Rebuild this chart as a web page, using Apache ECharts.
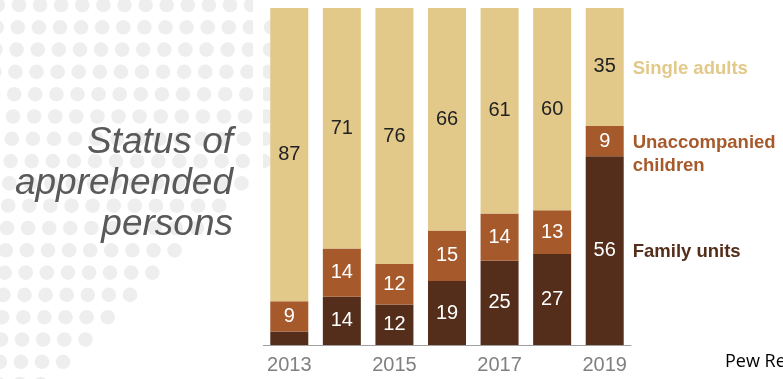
<!DOCTYPE html>
<html>
<head>
<meta charset="utf-8">
<script src="https://cdn.jsdelivr.net/npm/echarts@6/dist/echarts.min.js"></script>
<style>
  html, body { margin: 0; padding: 0; background: #fff; }
  #main { width: 783px; height: 379px; }
</style>
</head>
<body>
<div id="main"></div>
<script>
// 数据
var years = ['2013', '2014', '2015', '2016', '2017', '2018', '2019'];
var familyUnits = [4, 14.3, 12, 19, 25, 27, 56];
var unaccompanied = [9, 14.3, 12, 15, 14, 13, 9];
var singleAdults = [87, 71.4, 76, 66, 61, 60, 35];
var seriesNames = ['Family units', 'Unaccompanied\nchildren', 'Single adults'];

var cFamily = '#542e1a';
var cChild = '#a65a2b';
var cSingle = '#e2c98a';

var chart = echarts.init(document.getElementById('main'));

// 背景的灰色圆点
var dots = [];
for (var r = 0; r < 18; r++) {
	var y = 5 + r * 22.3;
	var maxX = r <= 7 ? 270 : 175 - 22 * (r - 11);
	for (var k = -1; k < 14; k++) {
		var x = 19 - 1.2 * r + 21.1 * k;
		if (x > maxX + 1) break;
		dots.push({
			type : 'circle',
			z : 0,
			silent : true,
			shape : { cx : x, cy : y, r : 7.3 },
			style : { fill : '#eeeeee' }
		});
	}
}

function seg(name, data, color, textColor) {
	return {
		name : name,
		type : 'bar',
		stack : 'total',
		barWidth : 38,
		data : data,
		itemStyle : { color : color },
		label : {
			show : true,
			position : 'inside',
			color : textColor,
			fontSize : 20,
			fontFamily : 'Liberation Sans',
			formatter : function(p) {
				return p.value < 6 ? '' : Math.round(p.value);
			}
		}
	};
}

var option = {
	animation : false,
	backgroundColor : '#fff',
	grid : { left : 263, right : 152, top : 8, bottom : 34 },
	xAxis : {
		type : 'category',
		data : years,
		axisLine : { lineStyle : { color : '#a0a0a0' } },
		axisTick : { alignWithLabel : true, length : 7, lineStyle : { color : '#a0a0a0' } },
		axisLabel : {
			interval : 1,
			color : '#808080',
			fontSize : 20,
			fontFamily : 'Liberation Sans',
			margin : 10
		}
	},
	yAxis : { type : 'value', min : 0, max : 100, show : false },
	series : [
		seg(seriesNames[0], familyUnits, cFamily, '#fff'),
		seg(seriesNames[1], unaccompanied, cChild, '#fff'),
		seg(seriesNames[2], singleAdults, cSingle, '#222')
	]
};
chart.setOption(option);

// 右侧的系列名称，对齐到2019年的各段中心
var last = years.length - 1;
var vals = [familyUnits[last], unaccompanied[last], singleAdults[last]];
var colors = [cFamily, cChild, cSingle];
var labels = [];
var cum = 0;
for (var i = 0; i < vals.length; i++) {
	var mid = cum + vals[i] / 2;
	cum += vals[i];
	var pt = chart.convertToPixel({ gridIndex : 0 }, [last, mid]);
	labels.push({
		type : 'text',
		z : 10,
		x : pt[0] + 28,
		y : pt[1] - 10,
		style : {
			text : seriesNames[i],
			fill : colors[i],
			font : 'bold 18.5px "Liberation Sans"',
			lineHeight : 23,
			verticalAlign : 'top'
		}
	});
}

chart.setOption({
	graphic : dots.concat([
		{
			type : 'rect',
			z : 1,
			silent : true,
			shape : { x : 253, y : 0, width : 10, height : 379 },
			style : { fill : '#fff' }
		},
		{
			type : 'text',
			z : 5,
			x : 233,
			y : 122,
			style : {
				text : 'Status of\napprehended\npersons',
				fill : '#595959',
				font : 'italic 37px "Liberation Sans"',
				lineHeight : 41,
				align : 'right',
				verticalAlign : 'top'
			}
		},
		{
			type : 'text',
			z : 5,
			x : 725,
			y : 362,
			style : {
				text : 'Pew Research Center',
				fill : '#000',
				font : '18px "Open Sans"',
				verticalAlign : 'middle'
			}
		}
	]).concat(labels)
});
</script>
</body>
</html>
